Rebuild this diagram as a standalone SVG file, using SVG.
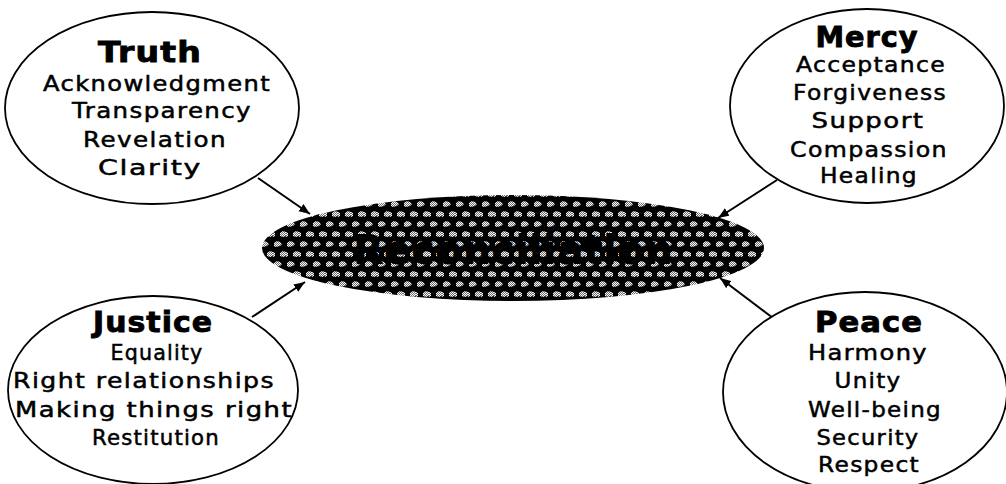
<svg xmlns="http://www.w3.org/2000/svg" width="1006" height="484" viewBox="0 0 1006 484">
  <style>
    .node { fill: #fff; stroke: #000; stroke-width: 1.8; }
    .title { font-family: "DejaVu Sans", "Liberation Sans", sans-serif; font-weight: bold; font-size: 29px; letter-spacing: 1px; fill: #000; stroke: #000; stroke-width: 0.9; text-anchor: middle; }
    .item { font-family: "DejaVu Sans", "Liberation Sans", sans-serif; font-size: 21px; letter-spacing: 1.2px; fill: #000; stroke: #000; stroke-width: 0.5; text-anchor: middle; }
    .conn { stroke: #000; stroke-width: 2; fill: none; marker-end: url(#arrow); }
    .center-label { font-family: "DejaVu Sans", "Liberation Sans", sans-serif; font-weight: bold; font-size: 40px; fill: #000; text-anchor: middle; }
  </style>
  <defs>
    <pattern id="dith" width="2" height="2" patternUnits="userSpaceOnUse">
      <rect width="2" height="2" fill="#6e6e6e"/>
      <rect x="0" y="0" width="1" height="1" fill="#ffffff"/>
      <rect x="1" y="1" width="1" height="1" fill="#ffffff"/>
    </pattern>
    <pattern id="speckle" width="13" height="20" patternUnits="userSpaceOnUse">
      <rect width="13" height="20" fill="#000"/>
      <polygon points="1,3 4,1 7,2 9,4 7,6 3,7 1,6" fill="url(#dith)"/>
      <polygon points="7,13 10,11 13,12 13,16 10,17 7,16" fill="url(#dith)"/>
      <polygon points="0,12 2,13 2,16 0,17" fill="url(#dith)"/>
    </pattern>
    <marker id="arrow" viewBox="0 0 10 8" refX="10" refY="4" markerWidth="11" markerHeight="9" markerUnits="userSpaceOnUse" orient="auto">
      <path d="M0,0 L10,4 L0,8 Z" fill="#000"/>
    </marker>
  </defs>

  <rect width="1006" height="484" fill="#fff"/>

  <g id="connectors">
    <line class="conn" x1="258" y1="178" x2="310" y2="214"/>
    <line class="conn" x1="252" y1="317" x2="305" y2="282"/>
    <line class="conn" x1="777" y1="180" x2="718" y2="218"/>
    <line class="conn" x1="773" y1="318" x2="720" y2="278"/>
  </g>

  <g id="reconciliation">
    <ellipse cx="513" cy="248" rx="251" ry="53" fill="url(#speckle)"/>
    <text class="center-label" x="513" y="264" textLength="320" lengthAdjust="spacing">Reconciliation</text>
  </g>

  <g id="truth">
    <ellipse class="node" cx="152" cy="108" rx="147" ry="96"/>
    <text class="title" x="150" y="62" textLength="104" lengthAdjust="spacingAndGlyphs">Truth</text>
    <text class="item" x="157" y="91" textLength="228" lengthAdjust="spacingAndGlyphs">Acknowledgment</text>
    <text class="item" x="162" y="118" textLength="180" lengthAdjust="spacingAndGlyphs">Transparency</text>
    <text class="item" x="155" y="147" textLength="144" lengthAdjust="spacingAndGlyphs">Revelation</text>
    <text class="item" x="150" y="175" textLength="104" lengthAdjust="spacingAndGlyphs">Clarity</text>
  </g>

  <g id="mercy">
    <ellipse class="node" cx="867" cy="106" rx="137" ry="97"/>
    <text class="title" x="867" y="47" textLength="103" lengthAdjust="spacingAndGlyphs">Mercy</text>
    <text class="item" x="871" y="72" textLength="150" lengthAdjust="spacingAndGlyphs">Acceptance</text>
    <text class="item" x="870" y="100" textLength="154" lengthAdjust="spacingAndGlyphs">Forgiveness</text>
    <text class="item" x="868" y="128" textLength="113" lengthAdjust="spacingAndGlyphs">Support</text>
    <text class="item" x="869" y="157" textLength="158" lengthAdjust="spacingAndGlyphs">Compassion</text>
    <text class="item" x="869" y="183" textLength="98" lengthAdjust="spacingAndGlyphs">Healing</text>
  </g>

  <g id="justice">
    <ellipse class="node" cx="153" cy="390" rx="145" ry="94"/>
    <text class="title" x="153" y="332" textLength="120" lengthAdjust="spacingAndGlyphs">Justice</text>
    <text class="item" x="157" y="360" textLength="93" lengthAdjust="spacingAndGlyphs">Equality</text>
    <text class="item" x="144" y="388" textLength="262" lengthAdjust="spacingAndGlyphs">Right relationships</text>
    <text class="item" x="154" y="417" textLength="278" lengthAdjust="spacingAndGlyphs">Making things right</text>
    <text class="item" x="156" y="445" textLength="128" lengthAdjust="spacingAndGlyphs">Restitution</text>
  </g>

  <g id="peace">
    <ellipse class="node" cx="865" cy="392" rx="142" ry="100"/>
    <text class="title" x="869" y="332" textLength="108" lengthAdjust="spacingAndGlyphs">Peace</text>
    <text class="item" x="868" y="360" textLength="120" lengthAdjust="spacingAndGlyphs">Harmony</text>
    <text class="item" x="868" y="388" textLength="67" lengthAdjust="spacingAndGlyphs">Unity</text>
    <text class="item" x="875" y="417" textLength="134" lengthAdjust="spacingAndGlyphs">Well-being</text>
    <text class="item" x="868" y="445" textLength="103" lengthAdjust="spacingAndGlyphs">Security</text>
    <text class="item" x="869" y="472" textLength="102" lengthAdjust="spacingAndGlyphs">Respect</text>
  </g>
</svg>
